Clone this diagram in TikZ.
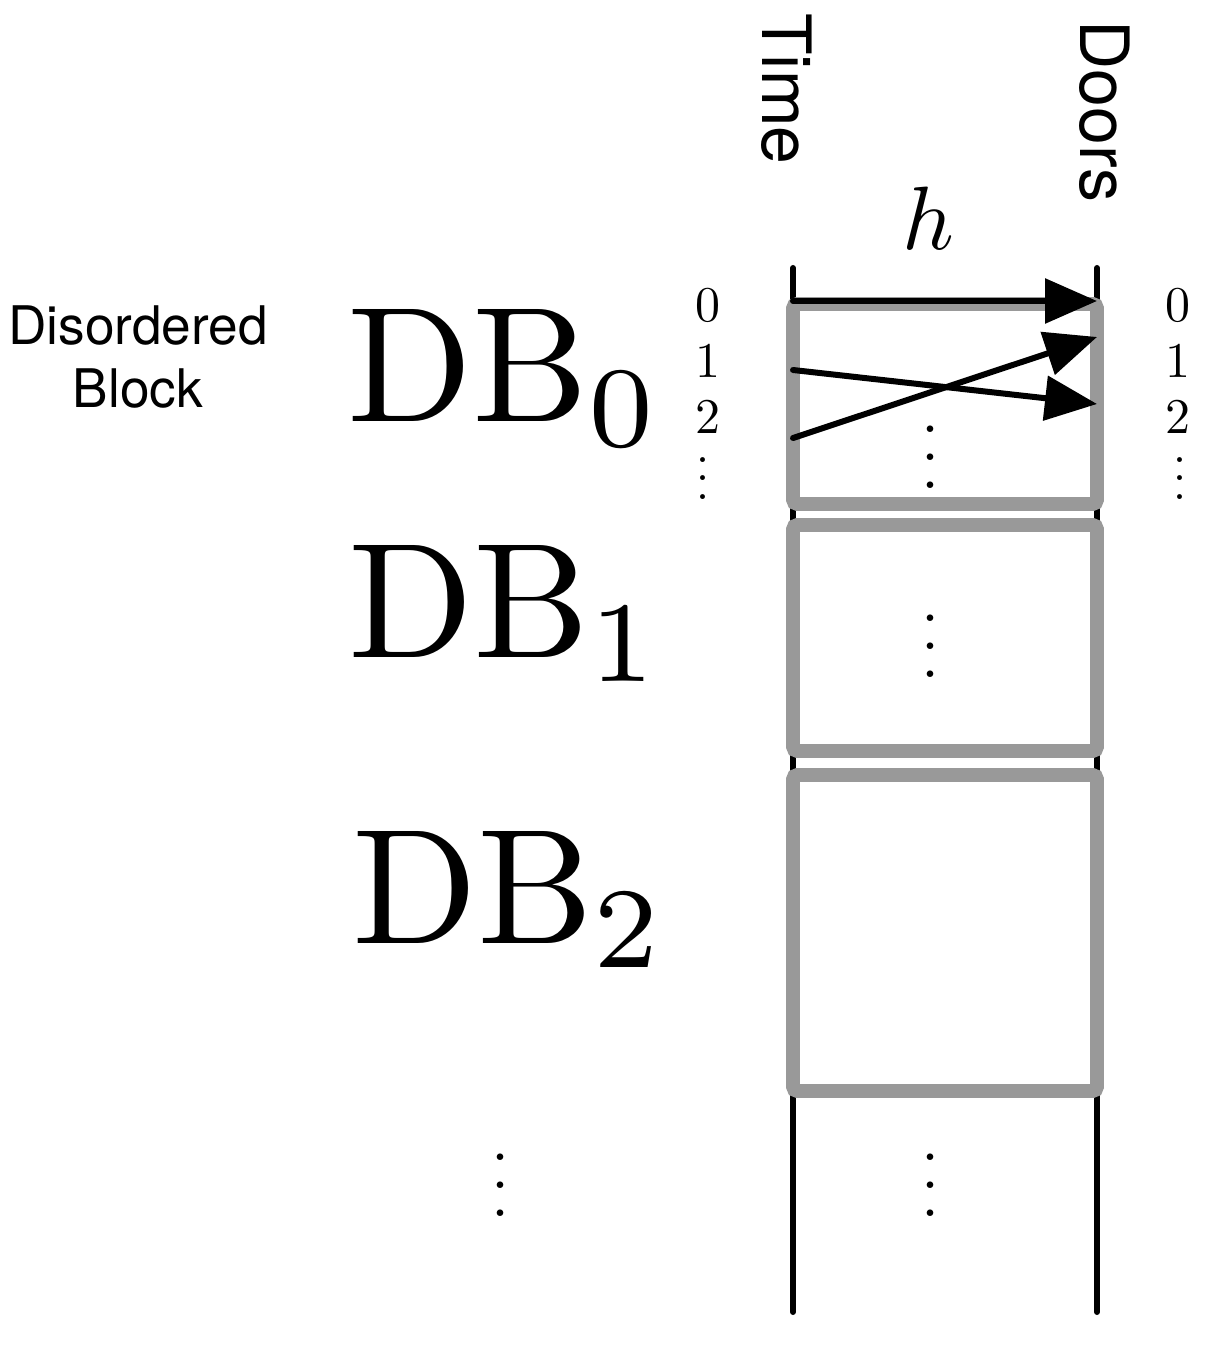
\RequirePackage{fix-cm}
\documentclass[tikz,border=0pt]{standalone}
\usepackage{fontspec}
\newfontfamily\helv{TeX Gyre Heros}
\usetikzlibrary{arrows.meta}
\definecolor{blockgray}{RGB}{153,153,153}
\newcommand{\dotcol}[2]{{\fontsize{#1}{#1}\selectfont\vbox{\baselineskip=#2\lineskiplimit=0pt\hbox{.}\hbox{.}\hbox{.}}}}
\begin{document}
\begin{tikzpicture}[x=0.5pt, y=-0.5pt,
  block/.style={rectangle, draw=blockgray, line width=6.8pt, rounded corners=2pt,
                minimum width=152pt, inner sep=0pt},
  axis/.style={line width=3pt, line cap=round},
  arrow/.style={-{Triangle[length=26pt,width=22pt]}, line width=3pt, line cap=round},
  idx/.style={inner sep=0pt},
  dblabel/.style={anchor=base west, inner sep=0pt},
  axislabel/.style={font=\helv\fontsize{34}{34}\selectfont, rotate=-90, anchor=west, inner sep=0pt}
]
  \useasboundingbox (0,0) rectangle (1218,1352);

  % Achsen
  \coordinate (timetop) at (793,268);
  \coordinate (timebot) at (793,1312);
  \coordinate (doortop) at (1097,268);
  \coordinate (doorbot) at (1097,1312);
  \draw[axis] (timetop) -- (timebot);
  \draw[axis] (doortop) -- (doorbot);
  \node[axislabel] (time) at (787,13) {Time};
  \node[axislabel] (doors) at (1105,20) {Doors};
  \node[inner sep=0pt] (h) at (928,218) {\scalebox{4.5}{$h$}};

  % Bloecke
  \node[block, minimum height=100pt] (db0) at (945,404) {};
  \node[block, minimum height=113pt] (db1) at (945,638) {};
  \node[block, minimum height=158pt] (db2) at (945,933) {};

  \node[dblabel] (lab0) at (347,422) {\scalebox{8.2}{$\mathrm{DB}_0$}};
  \node[dblabel] (lab1) at (348,657) {\scalebox{8.2}{$\mathrm{DB}_1$}};
  \node[dblabel] (lab2) at (352,943) {\scalebox{8.2}{$\mathrm{DB}_2$}};
  \node[font=\helv\fontsize{26.6}{31.5}\selectfont, align=center, inner sep=0pt]
    (disord) at (138,357.5) {Disordered\\Block};

  % Indizes
  \node[idx] (tl0) at (708,305) {\scalebox{2.5}{0}};
  \node[idx] (tl1) at (708,361) {\scalebox{2.5}{1}};
  \node[idx] (tl2) at (708,417) {\scalebox{2.5}{2}};
  \node[inner sep=0pt] (tldots) at (703,478.5) {\dotcol{30}{9.25pt}};
  \node[idx] (dr0) at (1178,305) {\scalebox{2.5}{0}};
  \node[idx] (dr1) at (1178,361) {\scalebox{2.5}{1}};
  \node[idx] (dr2) at (1178,417) {\scalebox{2.5}{2}};
  \node[inner sep=0pt] (drdots) at (1180,478.5) {\dotcol{30}{9.25pt}};

  % Zuordnung
  \coordinate (t0) at (793,301);
  \coordinate (t1) at (793,370);
  \coordinate (t2) at (793,438);
  \coordinate (d0) at (1097,301);
  \coordinate (d1) at (1097,337);
  \coordinate (d2) at (1097,404);
  \draw[arrow] (t0) -- (d0);
  \draw[arrow] (t1) -- (d2);
  \draw[arrow] (t2) -- (d1);

  % Punkte
  \node[inner sep=0pt] (dots0) at (930,457) {\dotcol{40}{14pt}};
  \node[inner sep=0pt] (dots1) at (930,646) {\dotcol{40}{14pt}};
  \node[inner sep=0pt] (dots2) at (930,1185) {\dotcol{40}{14pt}};
  \node[inner sep=0pt] (dotsl) at (500,1185) {\dotcol{40}{14pt}};
\end{tikzpicture}
\end{document}
